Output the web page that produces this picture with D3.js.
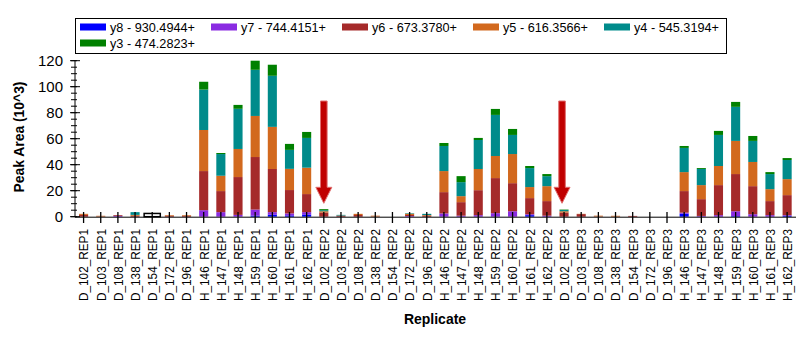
<!DOCTYPE html>
<html><head><meta charset="utf-8">
<script src="https://cdn.jsdelivr.net/npm/d3@7"></script>
<style>body{margin:0;background:#fff}svg{display:block}text{font-family:"Liberation Sans",Arial,sans-serif}</style>
</head><body><svg id="c" width="812" height="339"></svg>
<script>
const samples = ["D_102","D_103","D_108","D_138","D_154","D_172","D_196","H_146","H_147","H_148","H_159","H_160","H_161","H_162"];
const reps = ["REP1","REP2","REP3"];
const categories = reps.flatMap(r => samples.map(s => s + "_" + r));
const seriesNames = ["y8 - 930.4944+","y7 - 744.4151+","y6 - 673.3780+","y5 - 616.3566+","y4 - 545.3194+","y3 - 474.2823+"];
const seriesColors = ["#0000FF","#8A2BE2","#A52A2A","#D2691E","#008B8B","#008000"];
const y8 = [0,0,0,0,0,0,0, 0,0,0,0.9,1.5,1.0,1.7,
            0,0,0,0,0,0,0, 0,0,0,0,0,1.2,0,
            0,0,0,0,0,0,0, 2.3,0,0,0.5,0,0,0.6];
const y7 = [0,0,0.6,0,0,0,0, 5.0,3.5,1.4,4.6,2.0,1.5,1.8,
            0,0,0,0,0,0.5,0, 2.5,0.8,1.2,2.7,4.2,0.7,0.8,
            0,0,0,0,0,0,0, 0.8,0.6,1.2,3.7,1.9,1.2,0.6];
const y6 = [1.4,0.2,0.6,0.7,0,0.7,0.7, 30.1,16.2,29.1,40.4,33.2,18.0,13.9,
            3.2,0.7,1.3,0.2,0,0.8,0.8, 16.4,10.4,19.2,27.0,21.6,12.4,11.2,
            3.2,2.0,0.2,0.1,0.6,0,0, 16.6,12.9,23.1,28.6,21.6,10.8,15.4];
const y5 = [0.8,0.5,0,0.7,0,0.5,0.5, 31.6,11.8,21.6,31.6,32.4,16.3,20.3,
            1.0,0.2,0.9,0.6,0,1.0,0.5, 16.2,4.6,16.3,17.0,22.4,8.5,11.5,
            1.0,0.2,0.6,0.6,0,0,0, 14.6,10.8,14.7,25.5,18.6,9.2,12.3];
const y4 = [0,0,0,2.1,0,0,0, 31.1,16.7,30.9,35.5,39.3,14.6,22.9,
            0.8,0.5,0,0,0,0.4,0.9, 19.3,10.8,22.3,31.6,14.7,14.6,7.7,
            1.0,0,0,0,0,0,0, 18.6,12.4,23.9,26.2,16.2,11.6,14.7];
const y3 = [0,0,0,0,0,0,0, 6.0,0.8,3.0,7.0,8.5,4.6,4.6,
            0.8,0,0,0,0,0,0, 2.3,4.6,1.6,4.6,4.6,1.6,1.6,
            0.3,0,0,0,0,0,0, 1.5,0.7,3.1,3.8,3.8,1.5,1.5];
const seriesValues = [y8,y7,y6,y5,y4,y3];
const yMajorTicks = [0,20,40,60,80,100,120];
const yMinorTicks = d3.range(0,121,5);
const arrowCats = ["D_102_REP2","D_102_REP3"];
const arrowFrom = 89, arrowTo = 10.3;
const selectedCat = "D_154_REP1", selectedVal = 2.5;

const svg = d3.select("#c");
const x = d3.scaleBand().domain(categories).range([75, 795.7]).paddingInner(0.47).paddingOuter(0.235);
const y = d3.scaleLinear().domain([0,120]).range([216.7, 60.7]);

const rows = categories.map((c,i) => { const o = {cat:c}; seriesNames.forEach((s,k)=>o[s]=seriesValues[k][i]); return o; });
const stack = d3.stack().keys(seriesNames)(rows);

svg.append("g").selectAll("g").data(stack).join("g").attr("fill",(d,i)=>seriesColors[i])
  .selectAll("rect").data(d=>d.filter(p=>p[1]-p[0]>0)).join("rect")
  .attr("x",d=>x(d.data.cat)).attr("width",x.bandwidth())
  .attr("y",d=>y(d[1])).attr("height",d=>y(d[0])-y(d[1]));

// selection box
svg.append("rect").attr("x",x(selectedCat)-x.step()*0.235+0.5).attr("width",x.step()-1)
  .attr("y",y(selectedVal)).attr("height",y(0)-y(selectedVal))
  .attr("fill","none").attr("stroke","#000").attr("stroke-width",1.5);

// y axis
const ya = svg.append("g").attr("transform","translate(75,0)");
ya.append("line").attr("y1",y(120)).attr("y2",y(0)+0.5).attr("stroke","#000");
ya.selectAll(".mn").data(yMinorTicks).join("line").attr("x1",-4).attr("x2",2)
  .attr("y1",d=>y(d)).attr("y2",d=>y(d)).attr("stroke","#000");
ya.selectAll(".mj").data(yMajorTicks).join("line").attr("x1",-5).attr("x2",5)
  .attr("y1",d=>y(d)).attr("y2",d=>y(d)).attr("stroke","#000");
ya.selectAll("text").data(yMajorTicks).join("text").attr("x",-12).attr("y",d=>y(d)).attr("dy","0.36em")
  .attr("text-anchor","end").attr("font-size",15).attr("fill","#000").text(d=>d);

// x axis
const xa = svg.append("g");
xa.append("line").attr("x1",75).attr("x2",796).attr("y1",217.2).attr("y2",217.2).attr("stroke","#000");
xa.selectAll(".t").data(categories).join("line")
  .attr("x1",d=>x(d)+x.bandwidth()/2).attr("x2",d=>x(d)+x.bandwidth()/2)
  .attr("y1",212).attr("y2",223).attr("stroke","#000").attr("stroke-width",1.3);
xa.selectAll("text").data(categories).join("text")
  .attr("transform",d=>`translate(${x(d)+x.bandwidth()/2},229) rotate(-90)`)
  .attr("dy","0.36em").attr("text-anchor","end").attr("fill","#000")
  .attr("textLength",72).attr("lengthAdjust","spacingAndGlyphs").style("font-size","13.5px").text(d=>d);

// titles
svg.append("text").attr("x",435).attr("y",324).attr("text-anchor","middle").attr("font-weight","bold")
  .attr("font-size",14).text("Replicate");
svg.append("text").attr("transform","translate(24,137) rotate(-90)").attr("text-anchor","middle")
  .attr("font-weight","bold").attr("font-size",14).attr("textLength",111).attr("lengthAdjust","spacingAndGlyphs")
  .text("Peak Area (10^3)");

// arrows
arrowCats.forEach((c,i)=>{
  const cx = x(c)+x.bandwidth()/2 - (i===1?2:0);
  const t = y(arrowTo), top = y(arrowFrom), hb = t-16;
  const p = d3.path();
  p.moveTo(cx-3.3,top); p.lineTo(cx+3.3,top); p.lineTo(cx+3.3,hb); p.lineTo(cx+8,hb);
  p.lineTo(cx,t); p.lineTo(cx-8,hb); p.lineTo(cx-3.3,hb); p.closePath();
  svg.append("path").attr("d",p.toString()).attr("fill","#C00000").attr("stroke","#E07070").attr("stroke-width",1);
});

// legend
const lg = svg.append("g");
lg.append("rect").attr("x",75.5).attr("y",18.5).attr("width",651).attr("height",35).attr("fill","#fff").attr("stroke","#000");
seriesNames.forEach((s,i)=>{
  const r = Math.floor(i/5), c = i%5;
  const lx = 80 + c*131, ly = 27 + r*16;
  lg.append("rect").attr("x",lx).attr("y",ly-3.5).attr("width",26).attr("height",7).attr("fill",seriesColors[i]);
  lg.append("text").attr("x",lx+30).attr("y",ly).attr("dy","0.36em").attr("fill","#000")
    .attr("textLength",85).attr("lengthAdjust","spacingAndGlyphs").style("font-size","13.5px").text(s);
});
</script></body></html>
